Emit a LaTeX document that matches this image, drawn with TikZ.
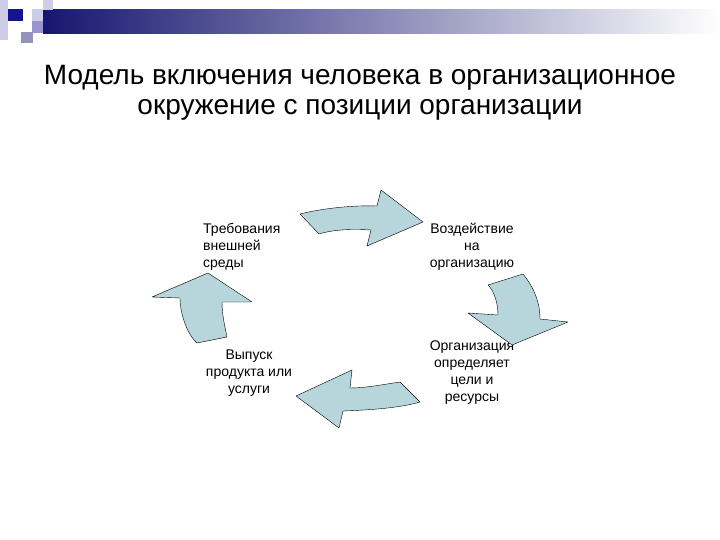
\documentclass[tikz,border=0pt]{standalone}
\usepackage{fontspec}
\setmainfont{Liberation Sans}
\usetikzlibrary{calc, positioning, shapes}
\definecolor{hdrblue}{RGB}{22,22,112}
\definecolor{sqdark}{RGB}{20,20,140}
\definecolor{sqlight}{RGB}{205,205,232}
\definecolor{sqmid}{RGB}{150,150,205}
\definecolor{arrowfill}{RGB}{183,214,219}

\tikzset{
  blockarrow/.style={draw=black, thin, fill=arrowfill, line join=round},
  lbl/.style={inner sep=0pt, font=\fontsize{14}{17}\selectfont},
  heading/.style={inner sep=0pt, align=center, font=\fontsize{28}{30.5}\selectfont}
}

\begin{document}
\begin{tikzpicture}[x=1pt,y=-1pt]
\useasboundingbox (0,0) rectangle (720,540);

% header bar
\shade[left color=hdrblue, right color=white] (43,10) rectangle (720,34);
\fill[sqlight] (0,0) rectangle (8,40);
\fill[sqlight] (43,0) rectangle (53,10);
\fill[sqmid] (32,21) rectangle (43,33);
\fill[sqlight] (32,9) rectangle (43,21);
\fill[sqmid!80!gray] (21,32) rectangle (33,43);
\fill[sqdark] (8,9) rectangle (23,21);

\node[heading] (title) at (360,93) {Модель включения человека в организационное\\окружение с позиции организации};

\node[lbl, align=left, anchor=west] (demand) at (203,246.5) {Требования\\внешней\\среды};
\node[lbl, align=center] (impact) at (472,247) {Воздействие\\на\\организацию};
\node[lbl, align=center] (goals) at (472,372.5) {Организация\\определяет\\цели и\\ресурсы};
\node[lbl, align=center] (output) at (249,373) {Выпуск\\продукта или\\услуги};

% arrows
\draw[blockarrow] (300,214) .. controls (320,209) and (350,205) .. (377,206) -- (381,190) -- (423,222)
  -- (367,246) -- (371,230) .. controls (355,229) and (335,229) .. (319,234) -- cycle;
\draw[blockarrow] (488,285) -- (523,274) .. controls (532,285) and (540,300) .. (540,319) -- (568,322)
  -- (512,345) -- (468,313) -- (498,315) .. controls (498,305) and (495,292) .. (488,285) -- cycle;
\draw[blockarrow] (420,402) -- (400,382) .. controls (380,385) and (365,388) .. (350,388) -- (352,370)
  -- (296,396) -- (339,428) -- (343,411) .. controls (370,410) and (400,408) .. (420,402) -- cycle;
\draw[blockarrow] (208,273) -- (252,302) -- (222,302) .. controls (222,315) and (225,327) .. (227,337)
  -- (197,343) .. controls (186,333) and (180,312) .. (180,298) -- (152,297) -- cycle;
\end{tikzpicture}
\end{document}
